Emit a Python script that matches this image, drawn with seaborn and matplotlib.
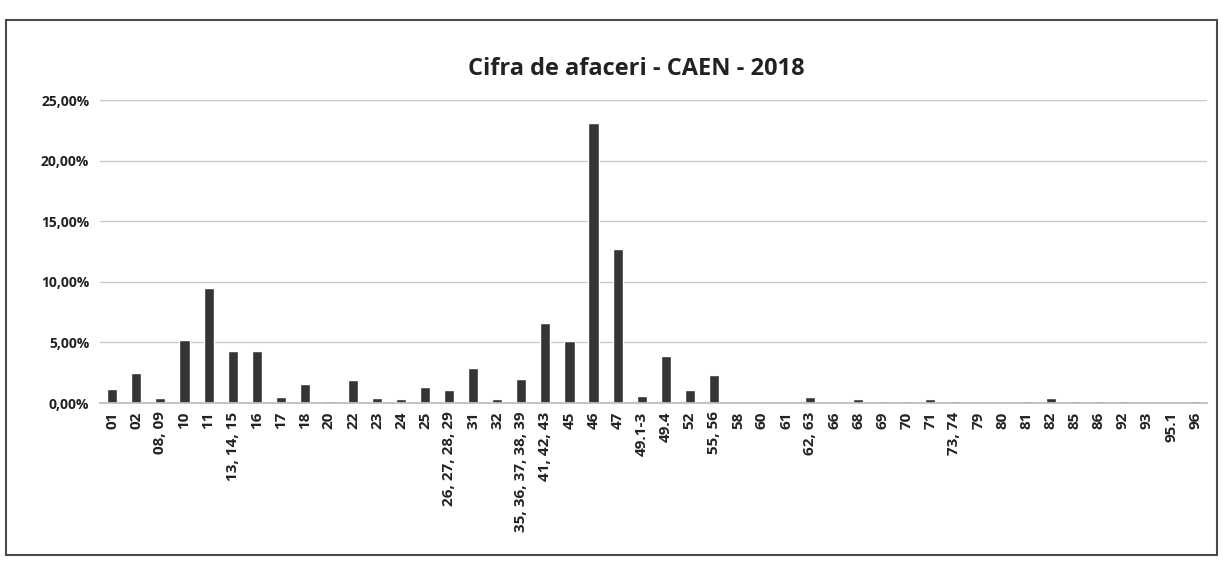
import matplotlib
matplotlib.use("Agg")
import matplotlib.pyplot as plt
import matplotlib.ticker as mticker
from matplotlib.patches import Rectangle
import seaborn as sns
import pandas as pd

# Cod CAEN (grupe de activități)
coduri = [
    "01", "02", "08, 09", "10", "11", "13, 14, 15", "16", "17", "18", "20",
    "22", "23", "24", "25", "26, 27, 28, 29", "31", "32", "35, 36, 37, 38, 39",
    "41, 42, 43", "45", "46", "47", "49.1-3", "49.4", "52", "55, 56", "58",
    "60", "61", "62, 63", "66", "68", "69", "70", "71", "73, 74", "79", "80",
    "81", "82", "85", "86", "92", "93", "95.1", "96",
]

# Ponderea în cifra de afaceri totală (%)
pondere = [
    1.15, 2.5, 0.4, 5.2, 9.5, 4.3, 4.3, 0.5, 1.6, 0.2,
    1.9, 0.4, 0.3, 1.3, 1.1, 2.9, 0.3, 2.0,
    6.6, 5.1, 23.1, 12.7, 0.6, 3.9, 1.1, 2.3, 0.1,
    0.05, 0.1, 0.5, 0.1, 0.3, 0.2, 0.2, 0.3, 0.2, 0.05, 0.1,
    0.2, 0.4, 0.2, 0.2, 0.2, 0.05, 0.05, 0.2,
]

titlu = "Cifra de afaceri - CAEN - 2018"

df = pd.DataFrame({"cod": coduri, "pondere": pondere})

sns.set_theme(style="white")
plt.rcParams["font.family"] = ["Open Sans", "DejaVu Sans"]

fig = plt.figure(figsize=(12.23, 5.75), dpi=100)
fig.patch.set_facecolor("white")
ax = fig.add_axes([0.082, 0.299, 0.905, 0.527])

sns.barplot(data=df, x="cod", y="pondere", order=coduri, color="#353535",
            width=0.42, ax=ax, saturation=1)

ax.set_ylim(0, 25)
ax.set_xlim(-0.5, len(coduri) - 0.5)
ax.set_yticks([0, 5, 10, 15, 20, 25])
ax.yaxis.set_major_formatter(
    mticker.FuncFormatter(lambda v, _: f"{v:.2f}".replace(".", ",") + "%"))
ax.grid(axis="y", color="#c8c8c8", linewidth=1.0)
ax.set_axisbelow(True)
for side in ("top", "right", "left"):
    ax.spines[side].set_visible(False)
ax.spines["bottom"].set_color("#bdbdbd")
ax.set_xlabel("")
ax.set_ylabel("")
ax.tick_params(axis="x", length=0, pad=6)
ax.tick_params(axis="y", length=0, pad=8)
plt.setp(ax.get_xticklabels(), rotation=90, fontsize=11, fontweight="bold",
         color="#222222")
plt.setp(ax.get_yticklabels(), fontsize=10, fontweight="bold",
         color="#222222")

fig.text(0.52, 0.88, titlu, ha="center", va="center", fontsize=17,
         fontweight="bold", color="#222222")

fig.patches.append(Rectangle((0.005, 0.035), 0.99, 0.93, transform=fig.transFigure,
                             fill=False, edgecolor="#4a4a4a", linewidth=1.5))

fig.savefig("out.png", dpi=100, facecolor="white")
